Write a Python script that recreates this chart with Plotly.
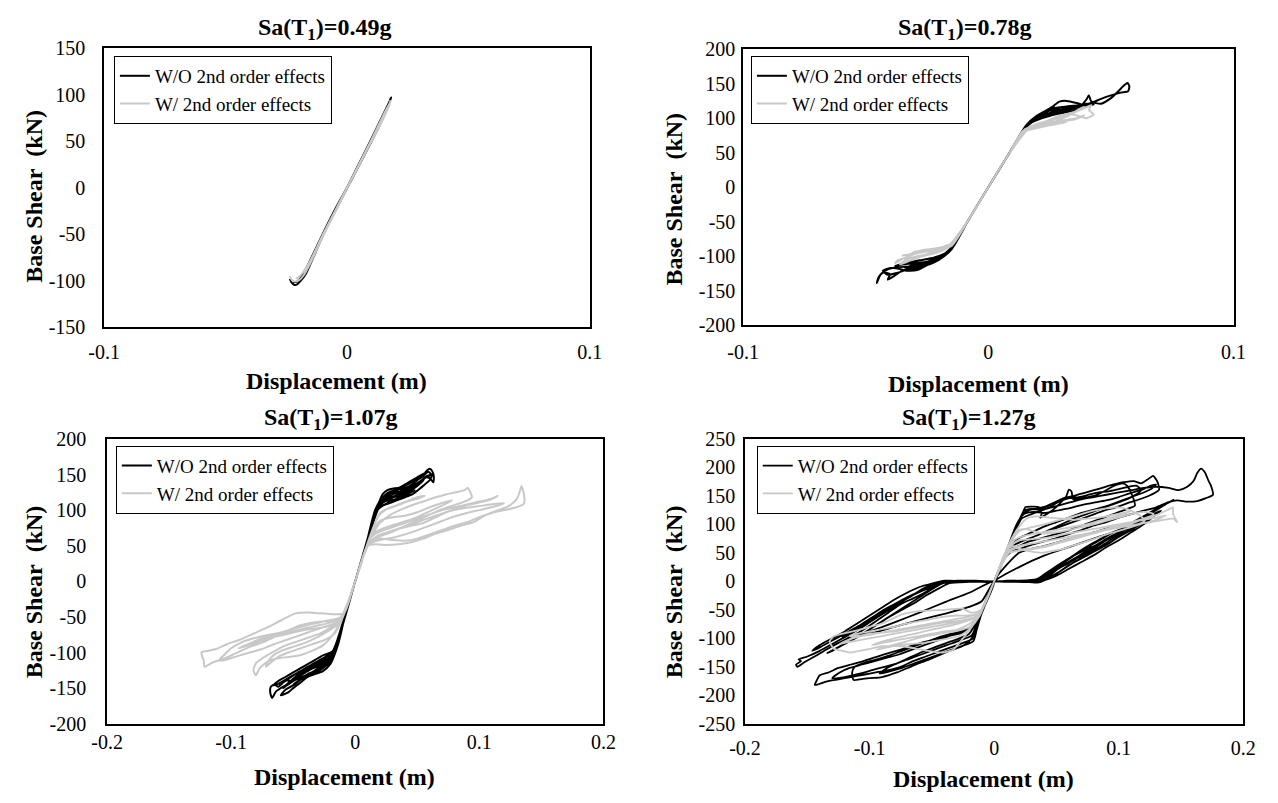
import plotly.graph_objects as go

# ---------------- data ----------------
SERIES_NAMES = ["W/O 2nd order effects", "W/ 2nd order effects"]
PANEL_TITLES = ["0.49g", "0.78g", "1.07g", "1.27g"]

X_TICKS_SMALL = [-0.1, 0, 0.1]
X_TICKS_SMALL_TEXT = ["-0.1", "0", "0.1"]
X_TICKS_LARGE = [-0.2, -0.1, 0, 0.1, 0.2]
X_TICKS_LARGE_TEXT = ["-0.2", "-0.1", "0", "0.1", "0.2"]
Y_TICKS_150 = [-150, -100, -50, 0, 50, 100, 150]
Y_TICKS_200 = [-200, -150, -100, -50, 0, 50, 100, 150, 200]
Y_TICKS_250 = [-250, -200, -150, -100, -50, 0, 50, 100, 150, 200, 250]

# Panel 1: Sa(T1)=0.49g  (displacement m, base shear kN)
P1_BLACK = [(-0.0235, -98), (-0.0228, -102), (-0.0218, -104.5), (-0.0205, -104), (-0.019, -100),
            (-0.017, -93), (-0.014, -76), (-0.010, -52), (-0.005, -26), (0, -1), (0.005, 24),
            (0.010, 49), (0.014, 70), (0.016, 82), (0.0172, 90), (0.018, 96), (0.0183, 97),
            (0.0178, 94), (0.015, 79), (0.010, 52), (0.005, 26), (0, 0), (-0.005, -24),
            (-0.010, -50), (-0.014, -72), (-0.017, -88), (-0.019, -97), (-0.0205, -101),
            (-0.0222, -102)]
P1_GRAY = [(-0.0235, -95), (-0.0228, -99), (-0.0215, -101), (-0.020, -100), (-0.018, -95),
           (-0.015, -81), (-0.010, -53), (-0.005, -27), (0, -1), (0.005, 24), (0.010, 49),
           (0.014, 69), (0.016, 80), (0.0175, 89), (0.018, 94), (0.0178, 92), (0.015, 78),
           (0.010, 51), (0, 0), (-0.010, -51), (-0.015, -78), (-0.019, -94), (-0.021, -98)]

# Panel 2: Sa(T1)=0.78g
P2_BLACK = [(0, 0), (0.008, 46), (0.0155, 88), (0.019, 99), (0.024, 106), (0.028, 110), (0.033, 114),
            (0.036, 116), (0.033, 112), (0.027, 107), (0.021, 100), (0.016, 89), (0.008, 46), (0, 0),
            (-0.008, -47), (-0.0146, -86), (-0.018, -97), (-0.022, -106), (-0.027, -112), (-0.031, -116),
            (-0.034, -117), (-0.031, -113), (-0.026, -109), (-0.021, -103), (-0.016, -91), (-0.008, -47), (0, 0),
            (0.008, 46), (0.015, 87), (0.018, 97), (0.023, 106), (0.026, 116), (0.029, 124), (0.032, 125),
            (0.036, 122), (0.040, 118), (0.043, 120), (0.040, 121), (0.034, 117), (0.028, 111), (0.022, 103),
            (0.016, 91), (0.008, 46), (0, 0),
            (-0.008, -47), (-0.015, -88), (-0.019, -101), (-0.024, -111), (-0.029, -120), (-0.033, -121),
            (-0.037, -118), (-0.040, -117), (-0.043, -121), (-0.041, -127), (-0.037, -124), (-0.032, -118),
            (-0.026, -114), (-0.020, -104), (-0.015, -89), (-0.008, -47), (0, 0),
            (0.008, 46), (0.0155, 89), (0.020, 101), (0.026, 108), (0.032, 112), (0.037, 116), (0.040, 127),
            (0.041, 133), (0.042, 124), (0.046, 121), (0.050, 129), (0.053, 139), (0.0555, 148), (0.0568, 151),
            (0.0575, 146), (0.057, 139), (0.054, 137), (0.050, 133), (0.046, 128), (0.042, 122), (0.037, 117),
            (0.030, 112), (0.023, 105), (0.017, 94), (0.008, 46), (0, 0),
            (-0.008, -47), (-0.015, -88), (-0.020, -103), (-0.026, -111), (-0.032, -115), (-0.037, -116),
            (-0.041, -119), (-0.044, -127), (-0.0455, -139), (-0.0448, -131), (-0.043, -124), (-0.040, -126),
            (-0.041, -134), (-0.039, -130), (-0.035, -121), (-0.030, -118), (-0.025, -113), (-0.020, -105),
            (-0.015, -90), (-0.008, -47), (0, 0),
            (0.008, 46), (0.015, 87), (0.019, 100), (0.025, 111), (0.030, 113), (0.027, 108), (0.020, 100),
            (0.015, 87), (0.008, 46), (0, 0),
            (0.008, 46), (0.0155, 90), (0.020, 104), (0.024, 112), (0.027, 118), (0.025, 114), (0.030, 116),
            (0.035, 118), (0.038, 114), (0.034, 110), (0.028, 106), (0.022, 100), (0.016, 90), (0.008, 46),
            (0, 0), (-0.008, -47), (-0.015, -90), (-0.020, -104), (-0.025, -108), (-0.030, -110),
            (-0.035, -112), (-0.038, -114), (-0.034, -110), (-0.028, -106), (-0.022, -102), (-0.016, -92),
            (-0.008, -47), (0, 0)]
P2_GRAY = [(0, 0), (0.008, 46), (0.014, 80), (0.018, 86), (0.023, 90), (0.028, 92), (0.032, 95), (0.030, 93),
           (0.024, 89), (0.019, 85), (0.014, 80), (0.008, 46), (0, 0),
           (-0.008, -47), (-0.014, -80), (-0.018, -86), (-0.023, -90), (-0.028, -93), (-0.031, -95),
           (-0.028, -92), (-0.022, -89), (-0.016, -84), (-0.008, -47), (0, 0),
           (0.008, 46), (0.014, 81), (0.019, 90), (0.024, 96), (0.029, 100), (0.033, 106), (0.036, 104),
           (0.040, 100), (0.043, 105), (0.041, 112), (0.042, 119), (0.039, 114), (0.034, 108), (0.029, 103),
           (0.023, 95), (0.017, 87), (0.008, 46), (0, 0),
           (-0.008, -47), (-0.015, -83), (-0.020, -90), (-0.025, -97), (-0.030, -101), (-0.034, -103),
           (-0.037, -106), (-0.038, -110), (-0.035, -104), (-0.031, -98), (-0.026, -93), (-0.020, -88),
           (-0.015, -84), (-0.008, -47), (0, 0),
           (0.008, 46), (0.015, 83), (0.021, 92), (0.026, 98), (0.031, 102), (0.036, 110), (0.039, 116),
           (0.037, 113), (0.033, 104), (0.027, 95), (0.021, 88), (0.015, 82), (0.008, 46), (0, 0),
           (-0.008, -47), (-0.015, -84), (-0.021, -95), (-0.027, -100), (-0.033, -108), (-0.036, -112),
           (-0.034, -106), (-0.029, -100), (-0.023, -96), (-0.017, -88), (-0.008, -47), (0, 0),
           (0.008, 46), (0.015, 84), (0.020, 88), (0.025, 94), (0.030, 96), (0.035, 98), (0.039, 104),
           (0.036, 100), (0.031, 97), (0.026, 93), (0.020, 87), (0.015, 83), (0.008, 46), (0, 0),
           (-0.008, -47), (-0.015, -85), (-0.020, -92), (-0.025, -92), (-0.030, -96), (-0.035, -99),
           (-0.032, -97), (-0.026, -94), (-0.020, -89), (-0.015, -85), (-0.008, -47), (0, 0)]

# Panel 3: Sa(T1)=1.07g
P3_BLACK = [(0, 0), (0.008, 46), (0.015, 86), (0.0183, 104), (0.022, 114), (0.026, 122), (0.030, 124),
            (0.036, 126), (0.042, 131), (0.046, 136), (0.049, 141), (0.052, 146), (0.055, 150), (0.058, 156),
            (0.060, 158), (0.062, 155), (0.0633, 148), (0.063, 139), (0.060, 145), (0.0565, 146), (0.054, 140),
            (0.050, 134), (0.045, 128), (0.040, 124), (0.036, 119), (0.030, 113), (0.024, 108), (0.019, 103),
            (0.014, 80), (0.008, 46), (0, 0),
            (-0.008, -46), (-0.0154, -90), (-0.019, -100), (-0.025, -108), (-0.031, -115), (-0.038, -122),
            (-0.044, -128), (-0.048, -134), (-0.052, -140), (-0.056, -146), (-0.060, -150), (-0.064, -155),
            (-0.067, -164), (-0.0685, -156), (-0.068, -148), (-0.065, -145), (-0.062, -148), (-0.058, -142),
            (-0.053, -136), (-0.048, -130), (-0.042, -124), (-0.036, -118), (-0.030, -112), (-0.024, -106),
            (-0.018, -98), (-0.010, -58), (0, 0),
            (0.008, 46), (0.016, 94), (0.020, 110), (0.025, 118), (0.030, 120), (0.035, 119), (0.040, 122),
            (0.045, 126), (0.048, 128), (0.044, 124), (0.038, 118), (0.033, 115), (0.028, 114), (0.023, 112),
            (0.018, 104), (0.010, 58), (0, 0),
            (-0.008, -46), (-0.015, -92), (-0.020, -106), (-0.025, -115), (-0.030, -122), (-0.035, -128),
            (-0.040, -132), (-0.045, -136), (-0.050, -140), (-0.055, -146), (-0.058, -150), (-0.054, -144),
            (-0.049, -136), (-0.043, -130), (-0.037, -124), (-0.031, -118), (-0.025, -112), (-0.019, -104),
            (-0.012, -70), (0, 0),
            (0.008, 46), (0.016, 96), (0.021, 115), (0.026, 124), (0.032, 128), (0.038, 130), (0.044, 134),
            (0.050, 142), (0.055, 148), (0.059, 154), (0.061, 150), (0.056, 145), (0.050, 138), (0.044, 132),
            (0.038, 126), (0.032, 120), (0.026, 116), (0.020, 110), (0.012, 70), (0, 0),
            (-0.008, -46), (-0.016, -96), (-0.022, -110), (-0.028, -118), (-0.034, -122), (-0.040, -128),
            (-0.046, -134), (-0.052, -140), (-0.056, -138), (-0.050, -132), (-0.044, -126), (-0.038, -122),
            (-0.032, -116), (-0.026, -110), (-0.020, -104), (-0.012, -72), (0, 0),
            (0.008, 46), (0.016, 95), (0.020, 112), (0.024, 118), (0.028, 122), (0.034, 124), (0.040, 128),
            (0.046, 132), (0.052, 138), (0.048, 134), (0.042, 128), (0.036, 122), (0.030, 118), (0.024, 114),
            (0.018, 106), (0.010, 60), (0, 0),
            (-0.008, -46), (-0.016, -96), (-0.021, -110), (-0.026, -120), (-0.032, -126), (-0.038, -130),
            (-0.044, -138), (-0.050, -145), (-0.046, -140), (-0.040, -134), (-0.034, -128), (-0.028, -120),
            (-0.022, -112), (-0.016, -100), (-0.010, -60), (0, 0),
            (0.008, 46), (0.015, 90), (0.018, 100), (0.022, 106), (0.028, 110), (0.034, 114), (0.040, 118),
            (0.046, 122), (0.052, 130), (0.056, 136), (0.060, 142), (0.062, 150), (0.058, 148), (0.052, 140),
            (0.046, 132), (0.040, 126), (0.034, 120), (0.028, 116), (0.022, 110), (0.016, 98), (0.008, 46),
            (0, 0),
            (0.008, 46), (0.016, 96), (0.019, 110), (0.022, 122), (0.026, 128), (0.030, 130), (0.036, 132),
            (0.042, 138), (0.048, 144), (0.052, 148), (0.056, 152), (0.052, 146), (0.046, 140), (0.040, 134),
            (0.034, 128), (0.028, 124), (0.022, 118), (0.016, 100), (0.008, 46), (0, 0),
            (-0.008, -46), (-0.015, -94), (-0.020, -100), (-0.026, -104), (-0.032, -110), (-0.038, -116),
            (-0.044, -122), (-0.050, -128), (-0.056, -134), (-0.062, -140), (-0.066, -146), (-0.062, -144),
            (-0.056, -138), (-0.050, -132), (-0.044, -128), (-0.038, -124), (-0.032, -120), (-0.026, -116),
            (-0.020, -108), (-0.014, -88), (-0.008, -46), (0, 0),
            (-0.008, -46), (-0.016, -100), (-0.020, -116), (-0.026, -126), (-0.032, -130), (-0.038, -134),
            (-0.044, -142), (-0.050, -150), (-0.054, -156), (-0.060, -160), (-0.056, -152), (-0.050, -146),
            (-0.044, -138), (-0.038, -132), (-0.032, -128), (-0.026, -122), (-0.020, -112), (-0.014, -84),
            (-0.008, -46), (0, 0)]
P3_GRAY = [(0, 0), (0.005, 25), (0.010, 50), (0.017, 52), (0.025, 51), (0.035, 52), (0.045, 55), (0.055, 60),
           (0.065, 67), (0.075, 72), (0.085, 78), (0.095, 83), (0.105, 93), (0.115, 100), (0.123, 105),
           (0.130, 115), (0.133, 128), (0.134, 134), (0.136, 122), (0.136, 109), (0.130, 104), (0.120, 100),
           (0.110, 96), (0.100, 90), (0.090, 83), (0.080, 78), (0.070, 72), (0.060, 66), (0.050, 60),
           (0.040, 57), (0.030, 58), (0.020, 60), (0.012, 55), (0.005, 28), (0, 0),
           (-0.005, -25), (-0.009, -45), (-0.020, -46), (-0.035, -44), (-0.048, -45), (-0.060, -55),
           (-0.070, -64), (-0.080, -72), (-0.093, -82), (-0.103, -88), (-0.112, -95), (-0.120, -98),
           (-0.124, -100), (-0.122, -112), (-0.1215, -120), (-0.115, -114), (-0.105, -108), (-0.095, -100),
           (-0.085, -92), (-0.075, -86), (-0.065, -78), (-0.055, -70), (-0.045, -62), (-0.035, -58),
           (-0.025, -56), (-0.015, -55), (-0.008, -42), (0, 0),
           (0.006, 32), (0.012, 60), (0.020, 82), (0.028, 93), (0.036, 100), (0.049, 109), (0.058, 114),
           (0.065, 118), (0.073, 122), (0.081, 125), (0.088, 128), (0.0907, 131), (0.094, 118), (0.088, 112),
           (0.078, 106), (0.068, 100), (0.058, 92), (0.048, 84), (0.038, 76), (0.028, 68), (0.018, 62),
           (0.010, 50), (0, 0),
           (-0.006, -30), (-0.012, -55), (-0.020, -65), (-0.028, -73), (-0.036, -78), (-0.046, -84),
           (-0.056, -90), (-0.065, -98), (-0.072, -105), (-0.080, -115), (-0.082, -125), (-0.080, -132),
           (-0.077, -122), (-0.070, -112), (-0.062, -108), (-0.052, -106), (-0.043, -103), (-0.034, -97),
           (-0.026, -90), (-0.018, -75), (-0.010, -50), (0, 0),
           (0.006, 32), (0.012, 55), (0.022, 66), (0.033, 73), (0.045, 78), (0.055, 82), (0.065, 90),
           (0.075, 98), (0.085, 102), (0.097, 105), (0.105, 107), (0.113, 109), (0.120, 110), (0.112, 105),
           (0.100, 100), (0.090, 96), (0.078, 90), (0.066, 82), (0.055, 75), (0.044, 68), (0.032, 62),
           (0.020, 58), (0.011, 52), (0, 0),
           (-0.006, -30), (-0.011, -50), (-0.022, -55), (-0.035, -60), (-0.048, -66), (-0.060, -72),
           (-0.072, -76), (-0.082, -80), (-0.092, -86), (-0.100, -94), (-0.106, -104), (-0.110, -111),
           (-0.104, -110), (-0.095, -105), (-0.085, -100), (-0.075, -95), (-0.065, -88), (-0.055, -82),
           (-0.045, -76), (-0.035, -70), (-0.025, -64), (-0.015, -58), (-0.008, -40), (0, 0),
           (0.006, 32), (0.013, 68), (0.020, 85), (0.030, 90), (0.040, 92), (0.050, 97), (0.060, 104),
           (0.070, 110), (0.078, 114), (0.072, 108), (0.062, 100), (0.052, 92), (0.042, 85), (0.032, 80),
           (0.022, 74), (0.014, 66), (0.008, 44), (0, 0),
           (-0.006, -30), (-0.012, -52), (-0.020, -58), (-0.030, -62), (-0.040, -66), (-0.050, -70),
           (-0.060, -74), (-0.070, -78), (-0.078, -82), (-0.086, -88), (-0.094, -94), (-0.090, -92),
           (-0.080, -86), (-0.070, -80), (-0.060, -76), (-0.050, -72), (-0.040, -68), (-0.030, -66),
           (-0.020, -62), (-0.012, -56), (0, 0),
           (-0.006, -30), (-0.014, -60), (-0.022, -70), (-0.030, -78), (-0.040, -86), (-0.050, -92),
           (-0.060, -98), (-0.066, -104), (-0.070, -112), (-0.072, -120), (-0.068, -114), (-0.062, -106),
           (-0.054, -100), (-0.044, -94), (-0.034, -88), (-0.024, -82), (-0.016, -72), (-0.008, -42), (0, 0),
           (0.006, 32), (0.012, 60), (0.020, 70), (0.030, 76), (0.040, 82), (0.050, 88), (0.060, 94),
           (0.070, 100), (0.080, 104), (0.090, 108), (0.100, 112), (0.110, 116), (0.115, 120), (0.108, 114),
           (0.098, 110), (0.088, 106), (0.078, 100), (0.068, 94), (0.058, 88), (0.048, 82), (0.038, 76),
           (0.028, 70), (0.018, 64), (0.010, 52), (0, 0),
           (0.006, 32), (0.012, 62), (0.018, 90), (0.024, 100), (0.030, 104), (0.036, 108), (0.042, 112),
           (0.050, 116), (0.056, 120), (0.050, 118), (0.044, 114), (0.038, 110), (0.032, 106), (0.026, 102),
           (0.020, 96), (0.012, 64), (0, 0)]

# Panel 4: Sa(T1)=1.27g
P4_BLACK = [(0, 0), (0.01, 1), (0.02, 1), (0.03, 2), (0.036, 4), (0.045, 15), (0.054, 30), (0.062, 42),
            (0.07, 55), (0.078, 64), (0.086, 74), (0.094, 84), (0.102, 92), (0.11, 102), (0.118, 112),
            (0.126, 122), (0.134, 132), (0.14, 138), (0.144, 143), (0.138, 136), (0.128, 122), (0.118, 108),
            (0.108, 96), (0.098, 84), (0.088, 72), (0.078, 58), (0.068, 45), (0.058, 32), (0.048, 18),
            (0.040, 6), (0.032, 0), (0.02, -1), (0.01, -1), (0, 0), (-0.01, 0), (-0.02, 1), (-0.03, 0),
            (-0.04, -2), (-0.048, -10), (-0.056, -20), (-0.065, -30), (-0.075, -40), (-0.085, -55),
            (-0.095, -70), (-0.105, -85), (-0.115, -97), (-0.125, -108), (-0.135, -120), (-0.145, -133),
            (-0.153, -143), (-0.158, -150), (-0.159, -146), (-0.155, -140), (-0.157, -137), (-0.150, -132),
            (-0.140, -122), (-0.130, -110), (-0.120, -98), (-0.110, -86), (-0.100, -72), (-0.090, -58),
            (-0.080, -44), (-0.070, -30), (-0.060, -17), (-0.050, -7), (-0.040, 0), (-0.03, 1), (-0.015, 1),
            (0, 0),
            (0.015, -1), (0.034, -1), (0.042, 5), (0.05, 20), (0.06, 32), (0.07, 45), (0.08, 58), (0.09, 72),
            (0.10, 86), (0.11, 98), (0.12, 112), (0.126, 120), (0.13, 125), (0.124, 116), (0.112, 102),
            (0.1, 90), (0.09, 80), (0.08, 68), (0.07, 55), (0.06, 40), (0.05, 26), (0.04, 10), (0.034, 2),
            (0.02, 0), (0, 0), (-0.02, 0), (-0.038, -1), (-0.046, -8), (-0.055, -14), (-0.065, -24),
            (-0.075, -36), (-0.085, -47), (-0.095, -60), (-0.105, -74), (-0.115, -88), (-0.122, -97),
            (-0.118, -93), (-0.108, -80), (-0.098, -66), (-0.088, -52), (-0.078, -40), (-0.068, -28),
            (-0.058, -14), (-0.048, -4), (-0.04, 0), (-0.02, 1), (0, 0),
            (0.02, 0), (0.036, -2), (0.046, 8), (0.056, 22), (0.066, 36), (0.076, 50), (0.086, 62), (0.096, 76),
            (0.106, 88), (0.116, 100), (0.126, 112), (0.134, 124), (0.128, 118), (0.118, 106), (0.108, 94),
            (0.098, 82), (0.088, 70), (0.078, 60), (0.068, 50), (0.058, 38), (0.048, 24), (0.04, 12),
            (0.034, 4), (0.02, 1), (0, 0), (-0.02, -1), (-0.036, -3), (-0.044, -12), (-0.054, -24),
            (-0.064, -38), (-0.074, -50), (-0.084, -62), (-0.094, -76), (-0.104, -90), (-0.114, -102),
            (-0.124, -114), (-0.134, -126), (-0.13, -122), (-0.12, -110), (-0.11, -98), (-0.1, -84),
            (-0.09, -70), (-0.08, -56), (-0.07, -42), (-0.06, -28), (-0.05, -14), (-0.042, -4), (-0.03, 0),
            (0, 0),
            (0.02, 1), (0.038, 0), (0.05, 14), (0.06, 28), (0.07, 40), (0.08, 52), (0.09, 64), (0.1, 78),
            (0.11, 90), (0.12, 104), (0.126, 110), (0.12, 100), (0.11, 86), (0.1, 72), (0.09, 60), (0.08, 46),
            (0.07, 34), (0.06, 22), (0.05, 10), (0.04, 2), (0.02, 0), (0, 0),
            (-0.02, 0), (-0.04, 1), (-0.05, -4), (-0.06, -10), (-0.07, -20), (-0.08, -32), (-0.09, -46),
            (-0.1, -60), (-0.11, -74), (-0.12, -88), (-0.13, -100), (-0.14, -112), (-0.146, -122),
            (-0.14, -116), (-0.13, -104), (-0.12, -92), (-0.11, -80), (-0.1, -66), (-0.09, -52), (-0.08, -40),
            (-0.07, -28), (-0.06, -18), (-0.05, -8), (-0.04, -1), (-0.02, 0), (0, 0),
            (0.006, 30), (0.012, 62), (0.017, 85), (0.02, 105), (0.023, 120), (0.025, 130), (0.03, 131),
            (0.036, 130), (0.038, 118), (0.037, 112), (0.045, 122), (0.052, 135), (0.058, 150), (0.06, 161),
            (0.062, 158), (0.0635, 144), (0.07, 146), (0.08, 150), (0.09, 160), (0.0955, 167), (0.1035, 172),
            (0.107, 167), (0.11, 155), (0.1115, 147), (0.113, 133), (0.108, 128), (0.098, 120), (0.088, 112),
            (0.078, 104), (0.068, 96), (0.058, 88), (0.048, 82), (0.038, 76), (0.028, 70), (0.02, 62),
            (0.012, 55), (0.006, 30), (0, 0),
            (-0.006, -30), (-0.01, -55), (-0.014, -85), (-0.0167, -105), (-0.026, -114), (-0.039, -125),
            (-0.052, -137), (-0.065, -148), (-0.078, -160), (-0.09, -168), (-0.1, -170), (-0.108, -172),
            (-0.113, -173), (-0.114, -160), (-0.112, -150), (-0.104, -143), (-0.094, -137), (-0.084, -130),
            (-0.074, -122), (-0.064, -114), (-0.054, -106), (-0.044, -98), (-0.034, -92), (-0.024, -86),
            (-0.016, -78), (-0.01, -55), (-0.005, -28), (0, 0),
            (0.006, 32), (0.012, 65), (0.018, 95), (0.022, 115), (0.028, 125), (0.035, 128), (0.042, 132),
            (0.05, 140), (0.056, 146), (0.064, 150), (0.072, 155), (0.08, 160), (0.088, 165), (0.096, 170),
            (0.104, 174), (0.112, 176), (0.118, 172), (0.124, 180), (0.1276, 185), (0.131, 175), (0.1324, 161),
            (0.126, 152), (0.118, 145), (0.108, 138), (0.098, 130), (0.088, 124), (0.078, 116), (0.068, 108),
            (0.058, 100), (0.048, 92), (0.038, 84), (0.028, 75), (0.02, 68), (0.012, 58), (0.006, 30), (0, 0),
            (-0.006, -32), (-0.012, -68), (-0.017, -100), (-0.025, -108), (-0.035, -116), (-0.045, -124),
            (-0.055, -132), (-0.065, -140), (-0.075, -150), (-0.085, -156), (-0.095, -160), (-0.105, -164),
            (-0.115, -168), (-0.125, -172), (-0.135, -176), (-0.144, -182), (-0.142, -172), (-0.14, -165),
            (-0.133, -160), (-0.125, -152), (-0.115, -146), (-0.105, -140), (-0.095, -133), (-0.085, -126),
            (-0.075, -120), (-0.065, -112), (-0.055, -106), (-0.045, -100), (-0.035, -95), (-0.025, -90),
            (-0.016, -80), (-0.01, -56), (-0.005, -28), (0, 0),
            (0.006, 32), (0.012, 64), (0.017, 88), (0.022, 110), (0.03, 118), (0.04, 126), (0.05, 132),
            (0.06, 138), (0.07, 144), (0.08, 148), (0.09, 152), (0.1, 156), (0.11, 160), (0.12, 164),
            (0.13, 166), (0.14, 164), (0.148, 160), (0.155, 166), (0.16, 176), (0.163, 190), (0.166, 198),
            (0.169, 192), (0.171, 182), (0.1724, 175), (0.174, 168), (0.1756, 152), (0.17, 146), (0.163, 141),
            (0.155, 140), (0.147, 142), (0.14, 139), (0.13, 130), (0.12, 124), (0.11, 118), (0.1, 112),
            (0.09, 104), (0.08, 98), (0.07, 90), (0.06, 83), (0.05, 76), (0.04, 70), (0.03, 64), (0.022, 58),
            (0.014, 52), (0.008, 40), (0, 0),
            (-0.006, -30), (-0.012, -62), (-0.018, -95), (-0.028, -104), (-0.038, -112), (-0.048, -120),
            (-0.058, -128), (-0.068, -136), (-0.078, -144), (-0.088, -150), (-0.098, -156), (-0.108, -162),
            (-0.12, -168), (-0.13, -170), (-0.124, -160), (-0.116, -152), (-0.106, -146), (-0.096, -140),
            (-0.086, -134), (-0.076, -128), (-0.066, -120), (-0.056, -112), (-0.046, -104), (-0.036, -96),
            (-0.026, -88), (-0.018, -80), (-0.01, -52), (0, 0),
            (0.006, 32), (0.012, 64), (0.018, 96), (0.024, 124), (0.03, 127), (0.036, 126), (0.044, 130),
            (0.052, 140), (0.06, 146), (0.068, 148), (0.076, 152), (0.084, 156), (0.092, 158), (0.1, 162),
            (0.108, 166), (0.114, 168), (0.118, 160), (0.112, 150), (0.104, 142), (0.094, 134), (0.084, 126),
            (0.074, 118), (0.064, 110), (0.054, 100), (0.044, 90), (0.034, 80), (0.024, 72), (0.016, 64),
            (0.008, 42), (0, 0),
            (0.006, 32), (0.012, 66), (0.018, 100), (0.024, 118), (0.032, 122), (0.04, 120), (0.05, 124),
            (0.06, 128), (0.07, 134), (0.08, 138), (0.09, 142), (0.1, 148), (0.108, 154), (0.114, 158),
            (0.12, 162), (0.126, 168), (0.13, 170), (0.126, 162), (0.12, 156), (0.11, 148), (0.1, 140),
            (0.09, 132), (0.08, 126), (0.07, 120), (0.06, 112), (0.05, 104), (0.04, 96), (0.03, 86),
            (0.02, 76), (0.012, 62), (0, 0),
            (-0.006, -32), (-0.012, -66), (-0.018, -100), (-0.024, -112), (-0.034, -120), (-0.044, -128),
            (-0.054, -136), (-0.064, -144), (-0.074, -152), (-0.084, -158), (-0.092, -162), (-0.086, -152),
            (-0.078, -144), (-0.068, -134), (-0.058, -124), (-0.048, -116), (-0.038, -108), (-0.028, -100),
            (-0.02, -92), (-0.012, -62), (0, 0),
            (-0.02, -20), (-0.04, -37), (-0.06, -55), (-0.08, -72), (-0.1, -88), (-0.11, -95), (-0.1, -92),
            (-0.08, -80), (-0.06, -68), (-0.04, -57), (-0.02, -45), (-0.01, -35), (0, 0),
            (0.02, 25), (0.04, 45), (0.06, 60), (0.08, 75), (0.1, 90), (0.11, 100), (0.1, 98), (0.08, 86),
            (0.06, 74), (0.04, 62), (0.02, 50), (0, 0)]
P4_GRAY = [(0, 0), (0.005, 30), (0.01, 55), (0.015, 75), (0.02, 88), (0.03, 95), (0.04, 100), (0.05, 106),
           (0.06, 112), (0.07, 118), (0.08, 124), (0.09, 128), (0.1, 130), (0.108, 126), (0.115, 118),
           (0.121, 107), (0.115, 100), (0.105, 96), (0.095, 92), (0.085, 88), (0.075, 84), (0.065, 80),
           (0.055, 76), (0.045, 72), (0.035, 68), (0.025, 64), (0.018, 60), (0.01, 50), (0.005, 28), (0, 0),
           (-0.005, -28), (-0.01, -50), (-0.018, -55), (-0.026, -48), (-0.04, -50), (-0.058, -52),
           (-0.074, -58), (-0.09, -74), (-0.1, -80), (-0.11, -86), (-0.122, -92), (-0.129, -97),
           (-0.132, -105), (-0.129, -118), (-0.122, -122), (-0.116, -125), (-0.103, -120), (-0.09, -114),
           (-0.074, -114), (-0.058, -120), (-0.042, -125), (-0.033, -120), (-0.025, -100), (-0.018, -80),
           (-0.01, -52), (0, 0),
           (0.005, 30), (0.01, 55), (0.015, 62), (0.022, 56), (0.03, 52), (0.038, 50), (0.046, 53),
           (0.054, 56), (0.062, 62), (0.07, 67), (0.078, 73), (0.086, 79), (0.094, 85), (0.102, 90),
           (0.11, 95), (0.118, 101), (0.126, 104), (0.134, 107), (0.1436, 110), (0.147, 104), (0.1436, 118),
           (0.1436, 130), (0.14, 126), (0.132, 118), (0.124, 112), (0.116, 106), (0.108, 100), (0.1, 95),
           (0.09, 90), (0.08, 86), (0.07, 82), (0.06, 78), (0.05, 74), (0.04, 70), (0.03, 66), (0.02, 62),
           (0.01, 52), (0, 0),
           (-0.005, -28), (-0.012, -55), (-0.02, -62), (-0.03, -66), (-0.04, -70), (-0.05, -74), (-0.06, -78),
           (-0.07, -82), (-0.08, -86), (-0.09, -90), (-0.1, -94), (-0.11, -98), (-0.118, -104), (-0.124, -110),
           (-0.12, -108), (-0.11, -104), (-0.1, -100), (-0.09, -96), (-0.08, -92), (-0.07, -88), (-0.06, -84),
           (-0.05, -80), (-0.04, -76), (-0.03, -72), (-0.02, -68), (-0.012, -58), (0, 0),
           (0.006, 32), (0.012, 62), (0.018, 88), (0.024, 92), (0.032, 88), (0.04, 84), (0.05, 86), (0.06, 90),
           (0.07, 95), (0.08, 100), (0.09, 106), (0.1, 112), (0.11, 118), (0.12, 122), (0.128, 118),
           (0.12, 110), (0.11, 104), (0.1, 98), (0.09, 92), (0.08, 86), (0.07, 80), (0.06, 74), (0.05, 68),
           (0.04, 62), (0.03, 58), (0.02, 55), (0.012, 50), (0, 0),
           (-0.006, -30), (-0.012, -58), (-0.02, -75), (-0.03, -85), (-0.04, -88), (-0.05, -92), (-0.06, -96),
           (-0.07, -100), (-0.08, -104), (-0.09, -108), (-0.098, -112), (-0.09, -106), (-0.08, -100),
           (-0.07, -95), (-0.06, -90), (-0.05, -85), (-0.04, -80), (-0.03, -75), (-0.02, -68), (-0.012, -56),
           (0, 0),
           (0.006, 32), (0.012, 60), (0.02, 72), (0.03, 74), (0.04, 76), (0.05, 80), (0.06, 84), (0.07, 88),
           (0.08, 92), (0.09, 96), (0.1, 100), (0.11, 104), (0.12, 108), (0.13, 112), (0.138, 116), (0.13, 108),
           (0.12, 102), (0.11, 98), (0.1, 94), (0.09, 90), (0.08, 84), (0.07, 78), (0.06, 72), (0.05, 66),
           (0.04, 60), (0.03, 56), (0.02, 54), (0.01, 48), (0, 0),
           (-0.006, -30), (-0.012, -56), (-0.02, -60), (-0.03, -60), (-0.04, -62), (-0.05, -66), (-0.06, -70),
           (-0.07, -74), (-0.08, -80), (-0.09, -84), (-0.1, -88), (-0.11, -92), (-0.116, -96), (-0.11, -96),
           (-0.1, -92), (-0.09, -90), (-0.08, -88), (-0.07, -84), (-0.06, -80), (-0.05, -76), (-0.04, -72),
           (-0.03, -70), (-0.02, -66), (-0.012, -58), (0, 0),
           (0.006, 34), (0.012, 66), (0.02, 96), (0.026, 110), (0.034, 114), (0.044, 112), (0.054, 110),
           (0.064, 108), (0.074, 110), (0.084, 112), (0.094, 116), (0.104, 120), (0.11, 124), (0.104, 118),
           (0.094, 112), (0.084, 106), (0.074, 100), (0.064, 96), (0.054, 92), (0.044, 88), (0.034, 84),
           (0.024, 80), (0.016, 72), (0.008, 44), (0, 0),
           (-0.006, -32), (-0.012, -62), (-0.02, -84), (-0.028, -96), (-0.036, -100), (-0.046, -104),
           (-0.056, -108), (-0.066, -110), (-0.076, -112), (-0.086, -116), (-0.094, -120), (-0.088, -116),
           (-0.078, -110), (-0.068, -104), (-0.058, -98), (-0.048, -94), (-0.038, -90), (-0.028, -86),
           (-0.02, -80), (-0.012, -60), (0, 0)]

# ---------------- layout helpers ----------------
W, H, OFF = 1262, 787, 8          # figure size; page body margin of 8px
def fx(px):
    return (px - OFF) / W
def fy(py):
    return 1 - (py - OFF) / H

FONT = "Liberation Serif, Tinos, Times New Roman, DejaVu Serif, serif"
BLACK, GRAY = "#000000", "#C8C8C8"

panels = [
    dict(data=(P1_BLACK, P1_GRAY), xd=(90, 587), yd=(38, 325), xr=(-0.1, 0.1), yr=(-150, 150),
         xt=(X_TICKS_SMALL, X_TICKS_SMALL_TEXT), yt=Y_TICKS_150, leg=(100, 46),
         title=(316, 18), xtitle=(328, 380), ytitle=(18, 190), xlen=6, ylen=13, lw=2),
    dict(data=(P2_BLACK, P2_GRAY), xd=(744, 1246), yd=(39, 323), xr=(-0.1, 0.1), yr=(-200, 200),
         xt=(X_TICKS_SMALL, X_TICKS_SMALL_TEXT), yt=Y_TICKS_200, leg=(752, 46),
         title=(971, 18), xtitle=(985, 383), ytitle=(673, 193), xlen=8, ylen=2, lw=2),
    dict(data=(P3_BLACK, P3_GRAY), xd=(93, 601), yd=(440, 733), xr=(-0.2, 0.2), yr=(-200, 200),
         xt=(X_TICKS_LARGE, X_TICKS_LARGE_TEXT), yt=Y_TICKS_200, leg=(102, 447),
         title=(322, 419), xtitle=(336, 788), ytitle=(18, 597), xlen=0, ylen=15, lw=2),
    dict(data=(P4_BLACK, P4_GRAY), xd=(746, 1256), yd=(440, 733), xr=(-0.2, 0.2), yr=(-250, 250),
         xt=(X_TICKS_LARGE, X_TICKS_LARGE_TEXT), yt=Y_TICKS_250, leg=(758, 447),
         title=(975, 419), xtitle=(990, 790), ytitle=(673, 597), xlen=6, ylen=4, lw=1.8),
]

fig = go.Figure()
layout = dict(width=W, height=H, margin=dict(l=0, r=0, t=0, b=0, pad=0),
              paper_bgcolor="white", plot_bgcolor="white", annotations=[],
              font=dict(family=FONT, color="black"))

for i, p in enumerate(panels):
    n = i + 1
    sx = "" if n == 1 else str(n)
    legname = "legend" if n == 1 else f"legend{n}"
    for pts, color, name in zip(p["data"], (BLACK, GRAY), SERIES_NAMES):
        fig.add_trace(go.Scatter(
            x=[q[0] for q in pts], y=[q[1] for q in pts], mode="lines", name=name,
            line=dict(color=color, width=p["lw"], shape="spline", smoothing=0.6),
            xaxis="x" + sx, yaxis="y" + sx, legend=legname, showlegend=True,
            hoverinfo="skip"))
    layout["xaxis" + sx] = dict(
        domain=[fx(p["xd"][0]), fx(p["xd"][1])], range=list(p["xr"]), anchor="y" + sx,
        tickvals=p["xt"][0], ticktext=p["xt"][1], ticks="outside", ticklen=p["xlen"],
        tickcolor="rgba(0,0,0,0)", showgrid=False, zeroline=False, showline=True,
        linecolor="black", linewidth=1.5, mirror=True, tickfont=dict(family=FONT, size=20))
    layout["yaxis" + sx] = dict(
        domain=[fy(p["yd"][1]), fy(p["yd"][0])], range=list(p["yr"]), anchor="x" + sx,
        tickvals=p["yt"], ticktext=[str(v) for v in p["yt"]], ticks="outside", ticklen=p["ylen"],
        tickcolor="rgba(0,0,0,0)", showgrid=False, zeroline=False, showline=True,
        linecolor="black", linewidth=1.5, mirror=True, tickfont=dict(family=FONT, size=20))
    layout[legname] = dict(
        x=fx(p["leg"][0]), y=fy(p["leg"][1]), xanchor="left", yanchor="top",
        xref="paper", yref="paper", bgcolor="white", bordercolor="black", borderwidth=1,
        font=dict(family=FONT, size=19, color="black"), itemwidth=30, tracegroupgap=0)
    layout["annotations"] += [
        dict(text=f"<b>Sa(T<sub>1</sub>)={PANEL_TITLES[i]}</b>", x=fx(p["title"][0]), y=fy(p["title"][1]),
             xref="paper", yref="paper", showarrow=False, xanchor="center", yanchor="middle",
             font=dict(family=FONT, size=24, color="black")),
        dict(text="<b>Displacement (m)</b>", x=fx(p["xtitle"][0]), y=fy(p["xtitle"][1]),
             xref="paper", yref="paper", showarrow=False, xanchor="center", yanchor="middle",
             font=dict(family=FONT, size=24, color="black")),
        dict(text="<b>Base Shear\u00a0 (kN)</b>", x=fx(p["ytitle"][0]), y=fy(p["ytitle"][1]),
             xref="paper", yref="paper", showarrow=False, xanchor="center", yanchor="middle",
             textangle=-90, font=dict(family=FONT, size=24, color="black")),
    ]

fig.update_layout(**layout)
fig.write_html("out.html")
